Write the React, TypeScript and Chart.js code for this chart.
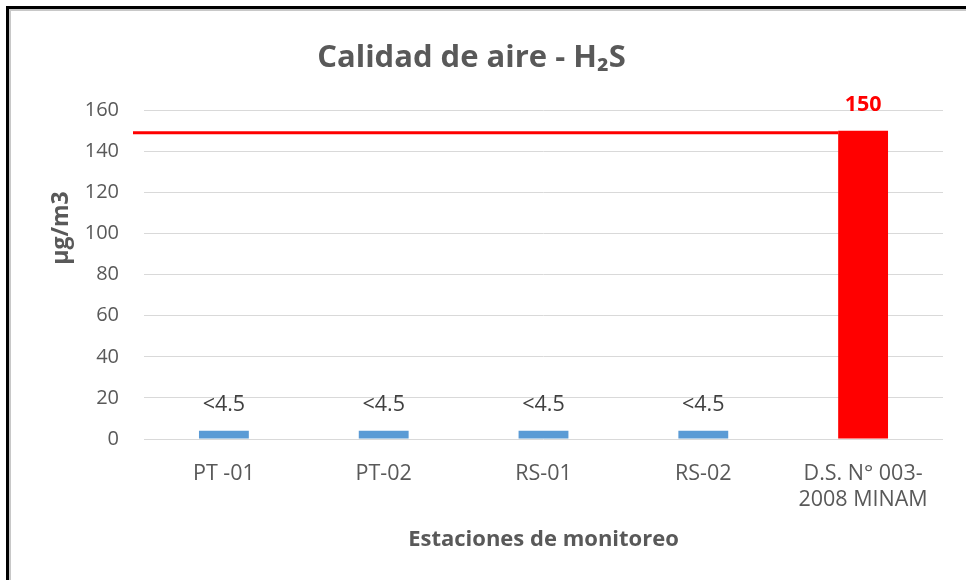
import React, { useEffect, useRef } from "react";
import { Chart, registerables } from "chart.js";

Chart.register(...registerables);

const categories: (string | string[])[] = ["PT -01", "PT-02", "RS-01", "RS-02", ["D.S. N° 003-", "2008 MINAM"]];
const values = [4, 4, 4, 4, 150];
const valueLabels = ["<4.5", "<4.5", "<4.5", "<4.5", "150"];
const barColors = ["#5B9BD5", "#5B9BD5", "#5B9BD5", "#5B9BD5", "#FF0000"];
const labelColors = ["#404040", "#404040", "#404040", "#404040", "#FF0000"];
const labelBold = [false, false, false, false, true];
const limitValue = 149;
const yTicks = [0, 20, 40, 60, 80, 100, 120, 140, 160];
const titleText = "Calidad de aire - H₂S";
const yTitle = "µg/m3";
const xTitle = "Estaciones de monitoreo";

const FONT = "'Open Sans', 'Noto Sans', sans-serif";

export default function App() {
  const ref = useRef<HTMLCanvasElement | null>(null);
  useEffect(() => {
    if (!ref.current) return;
    const extras = {
      id: "extras",
      afterDatasetsDraw(chart: any) {
        const ctx = chart.ctx;
        const meta = chart.getDatasetMeta(0);
        const y = chart.scales.y;
        ctx.save();
        // limit line
        const ly = y.getPixelForValue(limitValue);
        const lastBar = meta.data[meta.data.length - 1] as any;
        const barLeft = lastBar.x - lastBar.width / 2;
        ctx.strokeStyle = "#FF0000";
        ctx.lineWidth = 3;
        ctx.beginPath();
        ctx.moveTo(chart.chartArea.left - 11, ly);
        ctx.lineTo(barLeft, ly);
        ctx.stroke();
        // value labels
        ctx.textAlign = "center";
        ctx.textBaseline = "middle";
        meta.data.forEach((el: any, i: number) => {
          ctx.font = `${labelBold[i] ? "bold " : ""}21.5px ${FONT}`;
          ctx.fillStyle = labelColors[i];
          ctx.fillText(valueLabels[i], el.x, el.y - 26);
        });
        // y axis title
        ctx.translate(61, 228);
        ctx.rotate(-Math.PI / 2);
        ctx.font = `bold 23px ${FONT}`;
        ctx.fillStyle = "#595959";
        ctx.fillText(yTitle, 0, 0);
        ctx.restore();
      },
    };
    const chart = new Chart(ref.current, {
      type: "bar",
      data: {
        labels: categories,
        datasets: [
          {
            data: values,
            backgroundColor: barColors,
            borderWidth: 0,
            categoryPercentage: 0.8,
            barPercentage: 0.39,
          },
        ],
      },
      options: {
        responsive: false,
        animation: false,
        layout: { padding: { left: 0, right: 23, top: 0, bottom: 0 } },
        plugins: {
          legend: { display: false },
          tooltip: { enabled: false },
          title: {
            display: true,
            text: titleText,
            color: "#595959",
            font: { family: FONT, size: 31, weight: "bold" },
            padding: { top: 40, bottom: 33 },
          },
        },
        scales: {
          x: {
            grid: { display: false, drawTicks: false },
            border: { display: false },
            ticks: {
              color: "#595959",
              font: { family: FONT, size: 21.5, lineHeight: 1.25 },
              padding: 21,
              maxRotation: 0,
              autoSkip: false,
            },
            title: {
              display: true,
              text: xTitle,
              color: "#595959",
              font: { family: FONT, size: 22, weight: "bold" },
              padding: { top: 0, bottom: 27 },
            },
            afterFit(scale: any) {
              scale.height = 141;
            },
          },
          y: {
            min: 0,
            max: 160,
            afterBuildTicks(scale: any) {
              scale.ticks = yTicks.map((v) => ({ value: v }));
            },
            grid: { color: "#D9D9D9", lineWidth: 1, drawTicks: false },
            border: { display: false },
            ticks: {
              color: "#595959",
              font: { family: FONT, size: 20 },
              padding: 25,
            },
            afterFit(scale: any) {
              scale.width = 144;
            },
          },
        },
      },
      plugins: [extras],
    });
    return () => chart.destroy();
  }, []);
  return (
    <div style={{ position: "fixed", left: 0, top: 0, width: 966, height: 580, overflow: "hidden", background: "#fff" }}>
      <div
        style={{
          position: "absolute",
          left: 6,
          top: 6,
          width: 1000,
          height: 620,
          borderLeft: "3px solid #000",
          borderTop: "3px solid #000",
          boxShadow: "inset 2px 2px 0 #C8C8C8",
        }}
      />
      <canvas ref={ref} width={966} height={580} style={{ position: "absolute", left: 0, top: 0 }} />
    </div>
  );
}
